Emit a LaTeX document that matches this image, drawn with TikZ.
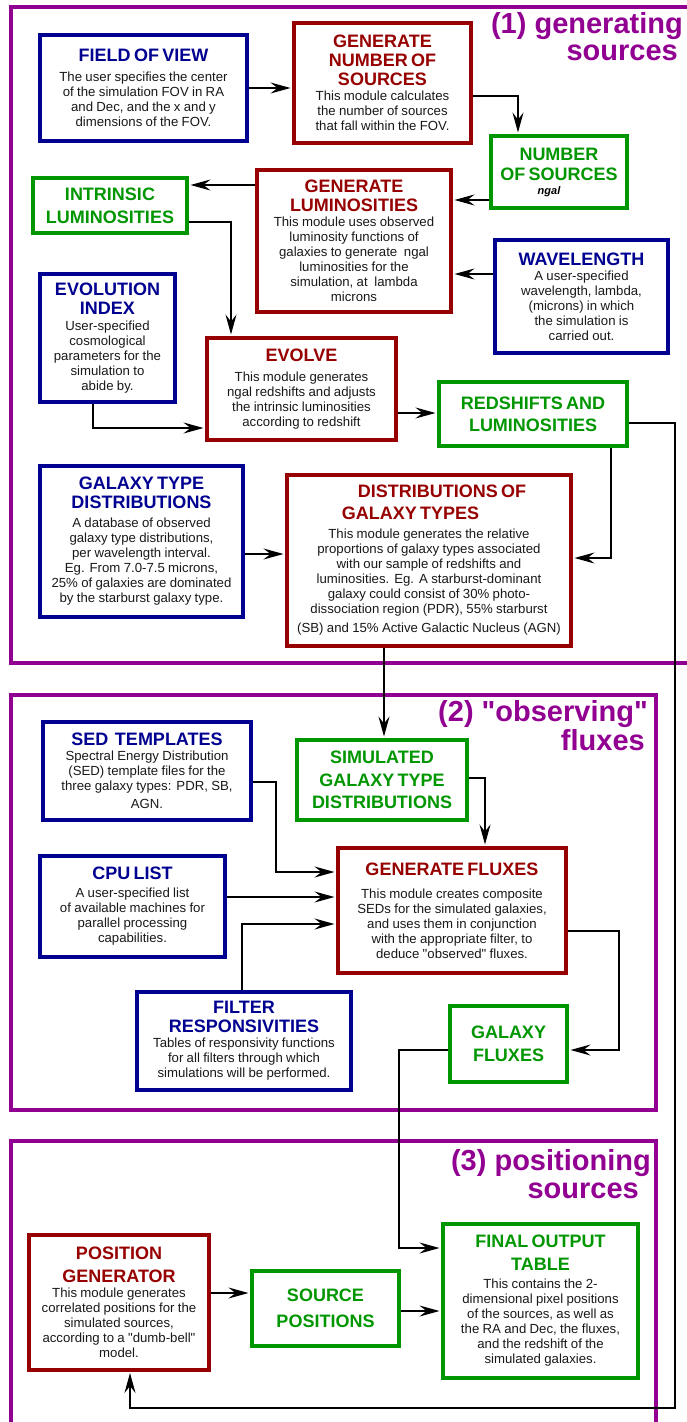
\documentclass[tikz,border=0pt]{standalone}
\usepackage{fontspec}
\setmainfont{Liberation Sans}[Ligatures=TeXOff]
\usetikzlibrary{arrows.meta}
\definecolor{myblue}{RGB}{0,0,145}
\definecolor{myred}{RGB}{150,0,0}
\definecolor{mygreen}{RGB}{0,150,0}
\definecolor{mypurple}{RGB}{145,0,145}
\definecolor{txt}{RGB}{25,25,25}
\colorlet{tcol}{black}
\setlength{\parindent}{0pt}
\setlength{\parskip}{0pt}
\newcommand{\ttl}[2][19]{{\fontsize{18}{#1}\selectfont\bfseries\leavevmode\color{tcol}#2\par}}
\newcommand{\bdy}[2][0]{{\vspace{#1pt}\fontsize{13.2}{15}\selectfont #2\par}}
\tikzset{
  box/.style={draw, rectangle, line width=4pt, fill=white, inner xsep=2pt, inner ysep=0pt, align=center, text=txt},
  bluebox/.style={box, draw=myblue, execute at begin node={\colorlet{tcol}{myblue}}},
  redbox/.style={box, draw=myred, execute at begin node={\colorlet{tcol}{myred}}},
  greenbox/.style={box, draw=mygreen, execute at begin node={\colorlet{tcol}{mygreen}}},
  sz/.style 2 args={minimum width=#1pt, minimum height=#2pt, /utils/exec={\pgfmathsetlengthmacro\mytw{#1pt-8pt}}, text width=\mytw},
  arr/.style={line width=1.3pt, draw=black, shorten >=1.5pt, -{Stealth[length=20pt,width=11pt,inset=7pt]}},
  frame/.style={draw=mypurple, line width=3.5pt, line join=miter},
  sect/.style={font=\fontsize{29}{29}\selectfont\bfseries, text=mypurple, anchor=base east, inner sep=0pt}
}
\begin{document}
\begin{tikzpicture}[x=1pt,y=-1pt]
\useasboundingbox (0,0) rectangle (686,1422);
% section frames
\draw[frame] (690,7) -- (11,7) -- (11,663) -- (690,663);
\draw[frame] (11,695) rectangle (656,1110);
\draw[frame] (11,1430) -- (11,1141) -- (656,1141) -- (656,1430);
% section titles
\node[sect] (s1a) at (683,33) {(1) generating};
\node[sect] (s1b) at (678,60) {sources};
\node[sect] (s2a) at (648,721) {(2) "observing"};
\node[sect] (s2b) at (645,750) {fluxes};
\node[sect] (s3a) at (651,1170) {(3) positioning};
\node[sect] (s3b) at (639,1198) {sources};
% section 1
\node[bluebox, sz={207}{106}] (fov) at (143.5,88) {\ttl{FIELD OF VIEW}\bdy[5]{The user specifies the center\\of the simulation FOV in RA\\and Dec, and the x and y\\dimensions of the FOV.}};
\node[redbox, sz={177}{120}] (gns) at (382.5,83) {\ttl{GENERATE\\NUMBER OF\\SOURCES}\bdy{This module calculates\\the number of sources\\that fall within the FOV.}};
\node[greenbox, sz={136}{72}] (nos) at (559,172) {\ttl[20]{NUMBER\\OF SOURCES}{\fontsize{11}{14}\selectfont\bfseries\itshape\leavevmode\color{black}ngal\rule{20pt}{0pt}\par}};
\node[redbox, sz={194}{142}] (gl) at (354,241) {\ttl{GENERATE\\LUMINOSITIES}\bdy{This module uses observed\\luminosity functions of\\galaxies to generate~ ngal\\luminosities for the\\simulation, at~ lambda\\microns}};
\node[greenbox, sz={154}{55}] (il) at (110,205.5) {\ttl[23]{INTRINSIC\\LUMINOSITIES}};
\node[bluebox, sz={173}{113}] (wl) at (581.5,296.5) {\ttl{WAVELENGTH}\bdy{A user-specified\\wavelength, lambda,\\(microns) in which\\the simulation is\\carried out.}};
\node[bluebox, sz={135}{128}] (ei) at (107.5,338) {\ttl{EVOLUTION\\INDEX}\bdy[1]{User-specified\\cosmological\\parameters for the\\simulation to\\abide by.}};
\node[redbox, sz={189}{102}] (evolve) at (301.5,389) {\ttl{EVOLVE}\bdy[5]{This module generates\\ngal redshifts and adjusts\\the intrinsic luminosities\\according to redshift}};
\node[greenbox, sz={188}{64}] (rl) at (533,414) {\ttl[22]{REDSHIFTS AND\\LUMINOSITIES}};
\node[bluebox, sz={203}{151}] (gtd) at (141.5,541) {\ttl[19.5]{GALAXY TYPE\\DISTRIBUTIONS}\bdy[4]{A database of observed\\galaxy type distributions,\\per wavelength interval.\\Eg. From 7.0-7.5 microns,\\25\% of galaxies are dominated\\by the starburst galaxy type.}};
\node[redbox, sz={284}{171}] (dgt) at (429,560) {\ttl[22]{\rule{26pt}{0pt}DISTRIBUTIONS OF\\GALAXY TYPES\rule{37pt}{0pt}}\bdy[4]{This module generates the relative\\proportions of galaxy types associated\\with our sample of redshifts and\\luminosities. Eg. A starburst-dominant\\galaxy could consist of 30\% photo-\\dissociation region (PDR), 55\% starburst\\[4pt](SB) and 15\% Active Galactic Nucleus (AGN)}};
% section 2
\node[bluebox, sz={208}{98}] (sed) at (147,771) {\ttl{SED~ TEMPLATES}\bdy{Spectral Energy Distribution\\(SED) template files for the\\three galaxy types: PDR, SB,\\[3pt]AGN.}};
\node[greenbox, sz={170}{80}] (sgtd) at (382,780) {\ttl[22.5]{SIMULATED\\GALAXY TYPE\\DISTRIBUTIONS}};
\node[redbox, sz={228}{125}] (gf) at (452,910.5) {\ttl{GENERATE FLUXES}\bdy[8]{This module creates composite\\SEDs for the simulated galaxies,\\and uses them in conjunction\\with the appropriate filter, to\\deduce "observed" fluxes.}};
\node[bluebox, sz={185}{101}] (cpu) at (132.5,906.5) {\ttl{CPU LIST}\bdy[3]{A user-specified list\\of available machines for\\parallel processing\\capabilities.}};
\node[bluebox, sz={214}{98}] (fr) at (244,1041) {\ttl{FILTER\\RESPONSIVITIES}\bdy{Tables of responsivity functions\\for all filters through which\\simulations will be performed.}};
\node[greenbox, sz={117}{76}] (galf) at (508.5,1044) {\ttl[22.5]{GALAXY\\FLUXES}};
% section 3
\node[greenbox, sz={195}{154}] (final) at (540.5,1301) {\ttl[23]{FINAL OUTPUT\\TABLE}\bdy[3]{This contains the 2-\\dimensional pixel positions\\of the sources, as well as\\the RA and Dec, the fluxes,\\and the redshift of the\\simulated galaxies.}};
\node[greenbox, sz={147}{75}] (sp) at (325.5,1308) {\ttl[26]{SOURCE\\POSITIONS}};
\node[redbox, sz={180}{135}] (pg) at (119,1302) {\ttl[23]{POSITION\\GENERATOR}\bdy{This module generates\\correlated positions for the\\simulated sources,\\according to a "dumb-bell"\\model.}};
% connectors
\draw[arr] (fov.east) -- (gns.west |- fov.east);
\draw[arr] (gns.east |- 0,96) -| (nos.north -| 518,0);
\draw[arr] (nos.west |- 0,200) -- (gl.east |- 0,200);
\draw[arr] (gl.west |- 0,185) -- (il.east |- 0,185);
\draw[arr] (il.east |- 0,222) -| (evolve.north -| 231,0);
\draw[arr] (wl.west |- 0,274) -- (gl.east |- 0,274);
\draw[arr] (ei.south -| 93,0) |- (evolve.west |- 0,428);
\draw[arr] (evolve.east |- 0,413) -- (rl.west |- 0,413);
\draw[arr] (rl.south -| 611,0) |- (dgt.east |- 0,558);
\draw[arr] (gtd.east |- 0,554) -- (dgt.west |- 0,554);
\draw[arr] (dgt.south -| 384,0) -- (sgtd.north -| 384,0);
\draw[arr] (sgtd.east |- 0,778) -| (gf.north -| 485,0);
\draw[arr] (sed.east |- 0,782) -| (276,872) -- (gf.west |- 0,872);
\draw[arr] (cpu.east |- 0,897) -- (gf.west |- 0,897);
\draw[arr] (fr.north -| 242,0) |- (gf.west |- 0,924);
\draw[arr] (gf.east |- 0,931) -| (619,1050) -- (galf.east |- 0,1050);
\draw[arr] (galf.west |- 0,1050) -| (399,1248) -- (final.west |- 0,1248);
\draw[arr] (sp.east |- 0,1311) -- (final.west |- 0,1311);
\draw[arr] (pg.east |- 0,1293) -- (sp.west |- 0,1293);
\draw[arr] (rl.east |- 0,423) -| (675,1408) -| (pg.south -| 130,0);
\end{tikzpicture}
\end{document}
